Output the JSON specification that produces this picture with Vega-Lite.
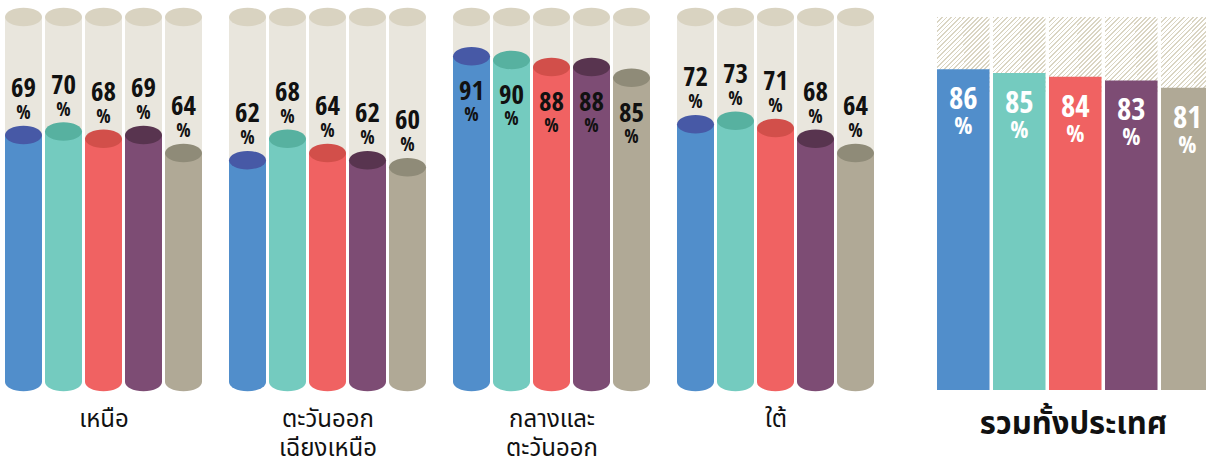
{
  "$schema": "https://vega.github.io/schema/vega-lite/v6.json",
  "padding": {"left": 3.5, "top": 7, "right": 0, "bottom": 0},
  "bounds": "flush",
  "spacing": 24,
  "data": {"values": [
    {"region": "เหนือ", "party": "p1", "value": 69},
    {"region": "เหนือ", "party": "p2", "value": 70},
    {"region": "เหนือ", "party": "p3", "value": 68},
    {"region": "เหนือ", "party": "p4", "value": 69},
    {"region": "เหนือ", "party": "p5", "value": 64},
    {"region": "ตะวันออกเฉียงเหนือ", "party": "p1", "value": 62},
    {"region": "ตะวันออกเฉียงเหนือ", "party": "p2", "value": 68},
    {"region": "ตะวันออกเฉียงเหนือ", "party": "p3", "value": 64},
    {"region": "ตะวันออกเฉียงเหนือ", "party": "p4", "value": 62},
    {"region": "ตะวันออกเฉียงเหนือ", "party": "p5", "value": 60},
    {"region": "กลางและตะวันออก", "party": "p1", "value": 91},
    {"region": "กลางและตะวันออก", "party": "p2", "value": 90},
    {"region": "กลางและตะวันออก", "party": "p3", "value": 88},
    {"region": "กลางและตะวันออก", "party": "p4", "value": 88},
    {"region": "กลางและตะวันออก", "party": "p5", "value": 85},
    {"region": "ใต้", "party": "p1", "value": 72},
    {"region": "ใต้", "party": "p2", "value": 73},
    {"region": "ใต้", "party": "p3", "value": 71},
    {"region": "ใต้", "party": "p4", "value": 68},
    {"region": "ใต้", "party": "p5", "value": 64},
    {"region": "รวมทั้งประเทศ", "party": "p1", "value": 86},
    {"region": "รวมทั้งประเทศ", "party": "p2", "value": 85},
    {"region": "รวมทั้งประเทศ", "party": "p3", "value": 84},
    {"region": "รวมทั้งประเทศ", "party": "p4", "value": 83},
    {"region": "รวมทั้งประเทศ", "party": "p5", "value": 81}
  ]},
  "hconcat": [
    {
      "width": 200, "height": 365,
      "transform": [{"filter": "datum.region === 'เหนือ'"}],
      "encoding": {"x": {"field": "party", "type": "nominal", "scale": {"paddingInner": 0.075, "paddingOuter": 0.0375}, "axis": {"title": "เหนือ", "labels": false, "ticks": false, "domain": false, "titlePadding": 25}}},
      "layer": [
        {"mark": {"type": "bar", "color": "#e9e6dd"}, "encoding": {"y": {"datum": 102, "type": "quantitative", "scale": {"domain": [0, 102], "nice": false}, "axis": null}}},
        {"mark": {"type": "point", "shape": "M-1,0A1,0.5,0,1,1,1,0A1,0.5,0,1,1,-1,0Z", "size": 1369, "filled": true, "opacity": 1, "strokeWidth": 0, "color": "#d9d3c1"}, "encoding": {"y": {"datum": 102, "type": "quantitative"}}},
        {"mark": {"type": "point", "shape": "M-1,0A1,0.5,0,1,1,1,0A1,0.5,0,1,1,-1,0Z", "size": 1369, "filled": true, "opacity": 1, "strokeWidth": 0}, "encoding": {"y": {"datum": 0, "type": "quantitative"}, "color": {"field": "party", "type": "nominal", "scale": {"range": ["#518ecb", "#74cbbf", "#f06262", "#7d4c74", "#b0a996"]}, "legend": null}}},
        {"mark": {"type": "bar"}, "encoding": {"y": {"field": "value", "type": "quantitative"}, "color": {"field": "party", "type": "nominal", "scale": {"range": ["#518ecb", "#74cbbf", "#f06262", "#7d4c74", "#b0a996"]}, "legend": null}}},
        {"mark": {"type": "point", "shape": "M-1,0A1,0.5,0,1,1,1,0A1,0.5,0,1,1,-1,0Z", "size": 1369, "filled": true, "opacity": 1, "strokeWidth": 0}, "encoding": {"y": {"field": "value", "type": "quantitative"}, "fill": {"field": "party", "type": "nominal", "scale": {"range": ["#4759a6", "#57b1a0", "#d24f4a", "#58344f", "#8f8b78"]}, "legend": null}}},
        {"mark": {"type": "text", "font": "Liberation Sans Narrow, Open Sans Condensed, Roboto Condensed, DejaVu Sans Condensed, sans-serif", "fontSize": 27, "fontWeight": "bold", "color": "#111", "baseline": "alphabetic", "dy": -38}, "encoding": {"y": {"field": "value", "type": "quantitative"}, "text": {"field": "value", "type": "quantitative"}}},
        {"mark": {"type": "text", "text": "%", "font": "Liberation Sans Narrow, Open Sans Condensed, Roboto Condensed, DejaVu Sans Condensed, sans-serif", "fontSize": 19, "fontWeight": "bold", "color": "#111", "baseline": "alphabetic", "dy": -16}, "encoding": {"y": {"field": "value", "type": "quantitative"}}}
      ]
    },
    {
      "width": 200, "height": 365,
      "transform": [{"filter": "datum.region === 'ตะวันออกเฉียงเหนือ'"}],
      "encoding": {"x": {"field": "party", "type": "nominal", "scale": {"paddingInner": 0.075, "paddingOuter": 0.0375}, "axis": {"title": ["ตะวันออก", "เฉียงเหนือ"], "labels": false, "ticks": false, "domain": false, "titlePadding": 25}}},
      "layer": [
        {"mark": {"type": "bar", "color": "#e9e6dd"}, "encoding": {"y": {"datum": 102, "type": "quantitative", "scale": {"domain": [0, 102], "nice": false}, "axis": null}}},
        {"mark": {"type": "point", "shape": "M-1,0A1,0.5,0,1,1,1,0A1,0.5,0,1,1,-1,0Z", "size": 1369, "filled": true, "opacity": 1, "strokeWidth": 0, "color": "#d9d3c1"}, "encoding": {"y": {"datum": 102, "type": "quantitative"}}},
        {"mark": {"type": "point", "shape": "M-1,0A1,0.5,0,1,1,1,0A1,0.5,0,1,1,-1,0Z", "size": 1369, "filled": true, "opacity": 1, "strokeWidth": 0}, "encoding": {"y": {"datum": 0, "type": "quantitative"}, "color": {"field": "party", "type": "nominal", "scale": {"range": ["#518ecb", "#74cbbf", "#f06262", "#7d4c74", "#b0a996"]}, "legend": null}}},
        {"mark": {"type": "bar"}, "encoding": {"y": {"field": "value", "type": "quantitative"}, "color": {"field": "party", "type": "nominal", "scale": {"range": ["#518ecb", "#74cbbf", "#f06262", "#7d4c74", "#b0a996"]}, "legend": null}}},
        {"mark": {"type": "point", "shape": "M-1,0A1,0.5,0,1,1,1,0A1,0.5,0,1,1,-1,0Z", "size": 1369, "filled": true, "opacity": 1, "strokeWidth": 0}, "encoding": {"y": {"field": "value", "type": "quantitative"}, "fill": {"field": "party", "type": "nominal", "scale": {"range": ["#4759a6", "#57b1a0", "#d24f4a", "#58344f", "#8f8b78"]}, "legend": null}}},
        {"mark": {"type": "text", "font": "Liberation Sans Narrow, Open Sans Condensed, Roboto Condensed, DejaVu Sans Condensed, sans-serif", "fontSize": 27, "fontWeight": "bold", "color": "#111", "baseline": "alphabetic", "dy": -38}, "encoding": {"y": {"field": "value", "type": "quantitative"}, "text": {"field": "value", "type": "quantitative"}}},
        {"mark": {"type": "text", "text": "%", "font": "Liberation Sans Narrow, Open Sans Condensed, Roboto Condensed, DejaVu Sans Condensed, sans-serif", "fontSize": 19, "fontWeight": "bold", "color": "#111", "baseline": "alphabetic", "dy": -16}, "encoding": {"y": {"field": "value", "type": "quantitative"}}}
      ]
    },
    {
      "width": 200, "height": 365,
      "transform": [{"filter": "datum.region === 'กลางและตะวันออก'"}],
      "encoding": {"x": {"field": "party", "type": "nominal", "scale": {"paddingInner": 0.075, "paddingOuter": 0.0375}, "axis": {"title": ["กลางและ", "ตะวันออก"], "labels": false, "ticks": false, "domain": false, "titlePadding": 25}}},
      "layer": [
        {"mark": {"type": "bar", "color": "#e9e6dd"}, "encoding": {"y": {"datum": 102, "type": "quantitative", "scale": {"domain": [0, 102], "nice": false}, "axis": null}}},
        {"mark": {"type": "point", "shape": "M-1,0A1,0.5,0,1,1,1,0A1,0.5,0,1,1,-1,0Z", "size": 1369, "filled": true, "opacity": 1, "strokeWidth": 0, "color": "#d9d3c1"}, "encoding": {"y": {"datum": 102, "type": "quantitative"}}},
        {"mark": {"type": "point", "shape": "M-1,0A1,0.5,0,1,1,1,0A1,0.5,0,1,1,-1,0Z", "size": 1369, "filled": true, "opacity": 1, "strokeWidth": 0}, "encoding": {"y": {"datum": 0, "type": "quantitative"}, "color": {"field": "party", "type": "nominal", "scale": {"range": ["#518ecb", "#74cbbf", "#f06262", "#7d4c74", "#b0a996"]}, "legend": null}}},
        {"mark": {"type": "bar"}, "encoding": {"y": {"field": "value", "type": "quantitative"}, "color": {"field": "party", "type": "nominal", "scale": {"range": ["#518ecb", "#74cbbf", "#f06262", "#7d4c74", "#b0a996"]}, "legend": null}}},
        {"mark": {"type": "point", "shape": "M-1,0A1,0.5,0,1,1,1,0A1,0.5,0,1,1,-1,0Z", "size": 1369, "filled": true, "opacity": 1, "strokeWidth": 0}, "encoding": {"y": {"field": "value", "type": "quantitative"}, "fill": {"field": "party", "type": "nominal", "scale": {"range": ["#4759a6", "#57b1a0", "#d24f4a", "#58344f", "#8f8b78"]}, "legend": null}}},
        {"mark": {"type": "text", "font": "Liberation Sans Narrow, Open Sans Condensed, Roboto Condensed, DejaVu Sans Condensed, sans-serif", "fontSize": 27, "fontWeight": "bold", "color": "#111", "baseline": "alphabetic", "dy": 44}, "encoding": {"y": {"field": "value", "type": "quantitative"}, "text": {"field": "value", "type": "quantitative"}}},
        {"mark": {"type": "text", "text": "%", "font": "Liberation Sans Narrow, Open Sans Condensed, Roboto Condensed, DejaVu Sans Condensed, sans-serif", "fontSize": 19, "fontWeight": "bold", "color": "#111", "baseline": "alphabetic", "dy": 65}, "encoding": {"y": {"field": "value", "type": "quantitative"}}}
      ]
    },
    {
      "width": 200, "height": 365,
      "transform": [{"filter": "datum.region === 'ใต้'"}],
      "encoding": {"x": {"field": "party", "type": "nominal", "scale": {"paddingInner": 0.075, "paddingOuter": 0.0375}, "axis": {"title": "ใต้", "labels": false, "ticks": false, "domain": false, "titlePadding": 25}}},
      "layer": [
        {"mark": {"type": "bar", "color": "#e9e6dd"}, "encoding": {"y": {"datum": 102, "type": "quantitative", "scale": {"domain": [0, 102], "nice": false}, "axis": null}}},
        {"mark": {"type": "point", "shape": "M-1,0A1,0.5,0,1,1,1,0A1,0.5,0,1,1,-1,0Z", "size": 1369, "filled": true, "opacity": 1, "strokeWidth": 0, "color": "#d9d3c1"}, "encoding": {"y": {"datum": 102, "type": "quantitative"}}},
        {"mark": {"type": "point", "shape": "M-1,0A1,0.5,0,1,1,1,0A1,0.5,0,1,1,-1,0Z", "size": 1369, "filled": true, "opacity": 1, "strokeWidth": 0}, "encoding": {"y": {"datum": 0, "type": "quantitative"}, "color": {"field": "party", "type": "nominal", "scale": {"range": ["#518ecb", "#74cbbf", "#f06262", "#7d4c74", "#b0a996"]}, "legend": null}}},
        {"mark": {"type": "bar"}, "encoding": {"y": {"field": "value", "type": "quantitative"}, "color": {"field": "party", "type": "nominal", "scale": {"range": ["#518ecb", "#74cbbf", "#f06262", "#7d4c74", "#b0a996"]}, "legend": null}}},
        {"mark": {"type": "point", "shape": "M-1,0A1,0.5,0,1,1,1,0A1,0.5,0,1,1,-1,0Z", "size": 1369, "filled": true, "opacity": 1, "strokeWidth": 0}, "encoding": {"y": {"field": "value", "type": "quantitative"}, "fill": {"field": "party", "type": "nominal", "scale": {"range": ["#4759a6", "#57b1a0", "#d24f4a", "#58344f", "#8f8b78"]}, "legend": null}}},
        {"mark": {"type": "text", "font": "Liberation Sans Narrow, Open Sans Condensed, Roboto Condensed, DejaVu Sans Condensed, sans-serif", "fontSize": 27, "fontWeight": "bold", "color": "#111", "baseline": "alphabetic", "dy": -38}, "encoding": {"y": {"field": "value", "type": "quantitative"}, "text": {"field": "value", "type": "quantitative"}}},
        {"mark": {"type": "text", "text": "%", "font": "Liberation Sans Narrow, Open Sans Condensed, Roboto Condensed, DejaVu Sans Condensed, sans-serif", "fontSize": 19, "fontWeight": "bold", "color": "#111", "baseline": "alphabetic", "dy": -16}, "encoding": {"y": {"field": "value", "type": "quantitative"}}}
      ]
    },
    {
      "width": 318, "height": 373,
      "transform": [{"filter": "datum.region === 'รวมทั้งประเทศ'"}],
      "encoding": {"x": {"field": "party", "type": "nominal", "scale": {"paddingInner": 0.0625, "paddingOuter": 0.3705, "align": 0.904}, "axis": {"title": "รวมทั้งประเทศ", "labels": false, "ticks": false, "domain": false, "titlePadding": 19, "titleFontSize": 31, "titleFontWeight": "bold", "titleX": 173.5}}},
      "layer": [
        {"mark": {"type": "bar", "fill": {"gradient": "linear", "x1": 0, "y1": 0, "x2": 0.0476, "y2": 0.338, "stops": [
          {"offset": 0, "color": "#dad5c3"}, {"offset": 0.012, "color": "#dad5c3"}, {"offset": 0.012, "color": "#ffffff"},
          {"offset": 0.035, "color": "#ffffff"}, {"offset": 0.035, "color": "#dad5c3"}, {"offset": 0.047, "color": "#dad5c3"}, {"offset": 0.047, "color": "#ffffff"},
          {"offset": 0.07, "color": "#ffffff"}, {"offset": 0.07, "color": "#dad5c3"}, {"offset": 0.082, "color": "#dad5c3"}, {"offset": 0.082, "color": "#ffffff"},
          {"offset": 0.105, "color": "#ffffff"}, {"offset": 0.105, "color": "#dad5c3"}, {"offset": 0.117, "color": "#dad5c3"}, {"offset": 0.117, "color": "#ffffff"},
          {"offset": 0.14, "color": "#ffffff"}, {"offset": 0.14, "color": "#dad5c3"}, {"offset": 0.152, "color": "#dad5c3"}, {"offset": 0.152, "color": "#ffffff"},
          {"offset": 0.175, "color": "#ffffff"}, {"offset": 0.175, "color": "#dad5c3"}, {"offset": 0.187, "color": "#dad5c3"}, {"offset": 0.187, "color": "#ffffff"},
          {"offset": 0.21, "color": "#ffffff"}, {"offset": 0.21, "color": "#dad5c3"}, {"offset": 0.222, "color": "#dad5c3"}, {"offset": 0.222, "color": "#ffffff"},
          {"offset": 0.245, "color": "#ffffff"}, {"offset": 0.245, "color": "#dad5c3"}, {"offset": 0.257, "color": "#dad5c3"}, {"offset": 0.257, "color": "#ffffff"},
          {"offset": 0.28, "color": "#ffffff"}, {"offset": 0.28, "color": "#dad5c3"}, {"offset": 0.292, "color": "#dad5c3"}, {"offset": 0.292, "color": "#ffffff"},
          {"offset": 0.315, "color": "#ffffff"}, {"offset": 0.315, "color": "#dad5c3"}, {"offset": 0.327, "color": "#dad5c3"}, {"offset": 0.327, "color": "#ffffff"},
          {"offset": 0.35, "color": "#ffffff"}, {"offset": 0.35, "color": "#dad5c3"}, {"offset": 0.362, "color": "#dad5c3"}, {"offset": 0.362, "color": "#ffffff"},
          {"offset": 0.385, "color": "#ffffff"}, {"offset": 0.385, "color": "#dad5c3"}, {"offset": 0.397, "color": "#dad5c3"}, {"offset": 0.397, "color": "#ffffff"},
          {"offset": 0.42, "color": "#ffffff"}, {"offset": 0.42, "color": "#dad5c3"}, {"offset": 0.432, "color": "#dad5c3"}, {"offset": 0.432, "color": "#ffffff"},
          {"offset": 0.455, "color": "#ffffff"}, {"offset": 0.455, "color": "#dad5c3"}, {"offset": 0.467, "color": "#dad5c3"}, {"offset": 0.467, "color": "#ffffff"},
          {"offset": 0.49, "color": "#ffffff"}, {"offset": 0.49, "color": "#dad5c3"}, {"offset": 0.502, "color": "#dad5c3"}, {"offset": 0.502, "color": "#ffffff"},
          {"offset": 0.525, "color": "#ffffff"}, {"offset": 0.525, "color": "#dad5c3"}, {"offset": 0.537, "color": "#dad5c3"}, {"offset": 0.537, "color": "#ffffff"},
          {"offset": 0.56, "color": "#ffffff"}, {"offset": 0.56, "color": "#dad5c3"}, {"offset": 0.572, "color": "#dad5c3"}, {"offset": 0.572, "color": "#ffffff"},
          {"offset": 0.595, "color": "#ffffff"}, {"offset": 0.595, "color": "#dad5c3"}, {"offset": 0.607, "color": "#dad5c3"}, {"offset": 0.607, "color": "#ffffff"},
          {"offset": 0.63, "color": "#ffffff"}, {"offset": 0.63, "color": "#dad5c3"}, {"offset": 0.642, "color": "#dad5c3"}, {"offset": 0.642, "color": "#ffffff"},
          {"offset": 0.665, "color": "#ffffff"}, {"offset": 0.665, "color": "#dad5c3"}, {"offset": 0.677, "color": "#dad5c3"}, {"offset": 0.677, "color": "#ffffff"},
          {"offset": 0.7, "color": "#ffffff"}, {"offset": 0.7, "color": "#dad5c3"}, {"offset": 0.712, "color": "#dad5c3"}, {"offset": 0.712, "color": "#ffffff"},
          {"offset": 0.735, "color": "#ffffff"}, {"offset": 0.735, "color": "#dad5c3"}, {"offset": 0.747, "color": "#dad5c3"}, {"offset": 0.747, "color": "#ffffff"},
          {"offset": 0.77, "color": "#ffffff"}, {"offset": 0.77, "color": "#dad5c3"}, {"offset": 0.782, "color": "#dad5c3"}, {"offset": 0.782, "color": "#ffffff"},
          {"offset": 0.805, "color": "#ffffff"}, {"offset": 0.805, "color": "#dad5c3"}, {"offset": 0.817, "color": "#dad5c3"}, {"offset": 0.817, "color": "#ffffff"},
          {"offset": 0.84, "color": "#ffffff"}, {"offset": 0.84, "color": "#dad5c3"}, {"offset": 0.852, "color": "#dad5c3"}, {"offset": 0.852, "color": "#ffffff"},
          {"offset": 0.875, "color": "#ffffff"}, {"offset": 0.875, "color": "#dad5c3"}, {"offset": 0.887, "color": "#dad5c3"}, {"offset": 0.887, "color": "#ffffff"},
          {"offset": 0.91, "color": "#ffffff"}, {"offset": 0.91, "color": "#dad5c3"}, {"offset": 0.922, "color": "#dad5c3"}, {"offset": 0.922, "color": "#ffffff"},
          {"offset": 0.945, "color": "#ffffff"}, {"offset": 0.945, "color": "#dad5c3"}, {"offset": 0.957, "color": "#dad5c3"}, {"offset": 0.957, "color": "#ffffff"},
          {"offset": 0.98, "color": "#ffffff"}, {"offset": 0.98, "color": "#dad5c3"}, {"offset": 0.992, "color": "#dad5c3"}, {"offset": 0.992, "color": "#ffffff"},
          {"offset": 1, "color": "#ffffff"}
        ]}}, "encoding": {"y": {"datum": 100, "type": "quantitative", "scale": {"domain": [0, 100], "nice": false}, "axis": null}}},
        {"mark": {"type": "bar"}, "encoding": {"y": {"field": "value", "type": "quantitative"}, "color": {"field": "party", "type": "nominal", "scale": {"range": ["#518ecb", "#74cbbf", "#f06262", "#7d4c74", "#b0a996"]}, "legend": null}}},
        {"mark": {"type": "text", "font": "Liberation Sans Narrow, Open Sans Condensed, Roboto Condensed, DejaVu Sans Condensed, sans-serif", "fontSize": 31, "fontWeight": "bold", "color": "#ffffff", "baseline": "alphabetic", "dy": 40}, "encoding": {"y": {"field": "value", "type": "quantitative"}, "text": {"field": "value", "type": "quantitative"}}},
        {"mark": {"type": "text", "text": "%", "font": "Liberation Sans Narrow, Open Sans Condensed, Roboto Condensed, DejaVu Sans Condensed, sans-serif", "fontSize": 24, "fontWeight": "bold", "color": "#ffffff", "baseline": "alphabetic", "dy": 65}, "encoding": {"y": {"field": "value", "type": "quantitative"}}}
      ]
    }
  ],
  "config": {
    "view": {"stroke": null},
    "axis": {"grid": false, "titleFont": "Noto Sans Thai, Noto Sans, sans-serif", "titleFontSize": 24, "titleFontWeight": "normal", "titleColor": "#111111", "titleLineHeight": 29}
  }
}
